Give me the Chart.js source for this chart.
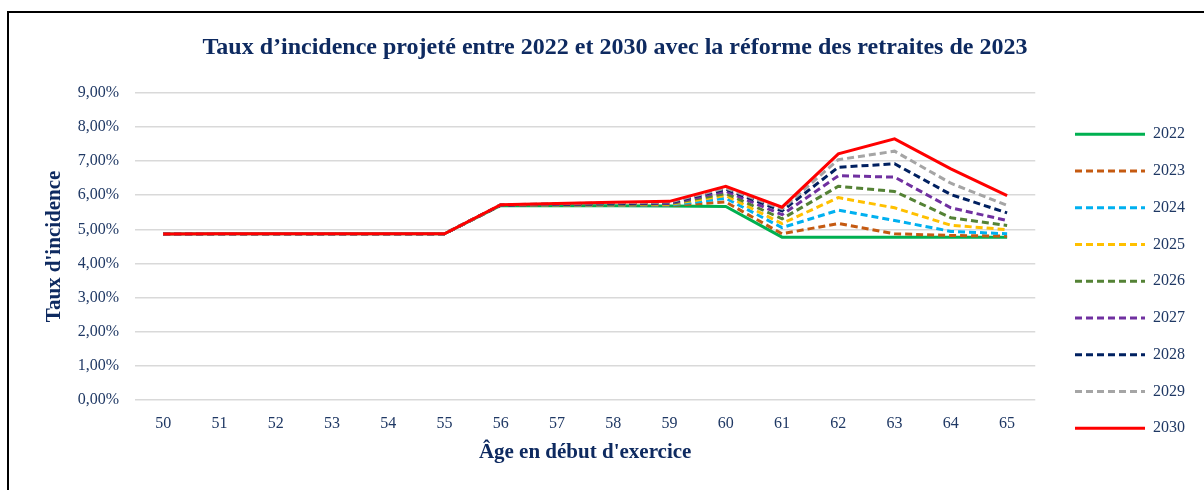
<!DOCTYPE html>
<html>
<head>
<meta charset="utf-8">
<script src="https://cdn.jsdelivr.net/npm/chart.js@4.4.1/dist/chart.umd.min.js"></script>
<style>
body { margin: 0; background: #fff; overflow: hidden }
#frame { position: absolute; left: 7px; top: 11px; width: 1300px; height: 600px; border: 2px solid #000 }
#wrap { position: absolute; left: 0; top: 0; width: 1230px; height: 490px }
</style>
</head>
<body>
<div id="frame"></div>
<div id="wrap"><canvas id="chart"></canvas></div>
<script>
const ages = ['50', '51', '52', '53', '54', '55', '56', '57', '58', '59', '60', '61', '62', '63', '64', '65']
const years = ['2022', '2023', '2024', '2025', '2026', '2027', '2028', '2029', '2030']

const y2022 = [4.86, 4.87, 4.87, 4.87, 4.87, 4.87, 5.70, 5.69, 5.69, 5.68, 5.67, 4.77, 4.77, 4.77, 4.77, 4.77]
const y2023 = [4.86, 4.87, 4.87, 4.87, 4.87, 4.87, 5.70, 5.70, 5.70, 5.70, 5.80, 4.87, 5.17, 4.87, 4.82, 4.80]
const y2024 = [4.86, 4.87, 4.87, 4.87, 4.87, 4.87, 5.71, 5.71, 5.71, 5.71, 5.91, 5.05, 5.56, 5.26, 4.94, 4.87]
const y2025 = [4.86, 4.87, 4.87, 4.87, 4.87, 4.87, 5.71, 5.72, 5.72, 5.73, 5.99, 5.17, 5.93, 5.63, 5.12, 4.99]
const y2026 = [4.86, 4.87, 4.87, 4.87, 4.87, 4.87, 5.71, 5.72, 5.73, 5.75, 6.05, 5.31, 6.26, 6.11, 5.34, 5.11]
const y2027 = [4.86, 4.87, 4.87, 4.87, 4.87, 4.87, 5.71, 5.73, 5.75, 5.76, 6.12, 5.43, 6.57, 6.53, 5.63, 5.26]
const y2028 = [4.86, 4.87, 4.87, 4.87, 4.87, 4.87, 5.71, 5.74, 5.76, 5.78, 6.18, 5.54, 6.82, 6.92, 6.02, 5.48]
const y2029 = [4.86, 4.87, 4.87, 4.87, 4.87, 4.87, 5.72, 5.75, 5.78, 5.80, 6.21, 5.60, 7.04, 7.29, 6.35, 5.70]
const y2030 = [4.86, 4.87, 4.87, 4.87, 4.87, 4.87, 5.72, 5.76, 5.79, 5.82, 6.26, 5.65, 7.21, 7.65, 6.77, 5.99]

const series = [y2022, y2023, y2024, y2025, y2026, y2027, y2028, y2029, y2030]
const colors = ['#00B050', '#C55A11', '#00B0F0', '#FFC000', '#548235', '#7030A0', '#002060', '#A5A5A5', '#FF0000']
const solid = [true, false, false, false, false, false, false, false, true]

const textColor = '#1F3864'
const titleColor = '#0E2A60'
const serif = "'Liberation Serif', 'DejaVu Serif', serif"

let datasets = []
for (let i = 0; i < series.length; i++) {
    datasets.push({
        label: years[i],
        data: series[i],
        borderColor: colors[i],
        backgroundColor: colors[i],
        borderWidth: 3,
        borderDash: solid[i] ? [] : [7, 4],
        pointRadius: 0,
        pointStyle: 'line',
        tension: 0,
        // last year drawn on top
        order: series.length - 1 - i
    })
}

const ctx = document.getElementById('chart').getContext('2d')
new Chart(ctx, {
    type: 'line',
    data: {
        labels: ages,
        datasets: datasets
    },
    options: {
        responsive: true,
        maintainAspectRatio: false,
        animation: false,
        layout: {
            padding: {left: 35, right: 35, top: 0, bottom: 0}
        },
        plugins: {
            title: {
                display: true,
                text: 'Taux d\u2019incidence projeté entre 2022 et 2030 avec la réforme des retraites de 2023',
                color: titleColor,
                font: {family: serif, size: 24, weight: 'bold'},
                padding: {top: 33, bottom: 31}
            },
            legend: {
                position: 'right',
                align: 'start',
                title: {
                    display: true,
                    text: '',
                    padding: {top: 91, bottom: 0}
                },
                labels: {
                    usePointStyle: true,
                    pointStyle: 'line',
                    pointStyleWidth: 70,
                    padding: 20.75,
                    color: textColor,
                    font: {family: serif, size: 16},
                    generateLabels: chart => {
                        const items = Chart.defaults.plugins.legend.labels.generateLabels(chart)
                        items.sort((a, b) => a.datasetIndex - b.datasetIndex)
                        items.forEach(it => {
                            const ds = chart.data.datasets[it.datasetIndex]
                            it.lineDash = ds.borderDash
                            it.lineWidth = 3
                            it.strokeStyle = ds.borderColor
                        })
                        return items
                    }
                }
            },
            tooltip: {enabled: false}
        },
        scales: {
            x: {
                offset: true,
                grid: {display: false, drawTicks: false},
                border: {display: false},
                ticks: {color: textColor, padding: 14, font: {family: serif, size: 16}},
                title: {
                    display: true,
                    text: 'Âge en début d\'exercice',
                    color: titleColor,
                    font: {family: serif, size: 21, weight: 'bold'},
                    padding: {top: 0, bottom: 25}
                },
                afterFit: s => { s.height = 90 }
            },
            y: {
                min: 0,
                max: 9,
                grid: {color: '#D9D9D9', lineWidth: 1.5, drawTicks: false},
                border: {display: false},
                ticks: {
                    stepSize: 1,
                    color: textColor,
                    padding: 16,
                    font: {family: serif, size: 16},
                    callback: v => v.toFixed(2).replace('.', ',') + '%'
                },
                title: {
                    display: true,
                    text: 'Taux d\'incidence',
                    color: titleColor,
                    font: {family: serif, size: 21, weight: 'bold'},
                    padding: {top: 7, bottom: 0}
                },
                afterFit: s => { s.width = 100 }
            },
            yR: {
                position: 'right',
                display: true,
                grid: {display: false},
                border: {display: false},
                ticks: {display: false},
                afterFit: s => { s.width = 19 }
            }
        }
    }
})
</script>
</body>
</html>
